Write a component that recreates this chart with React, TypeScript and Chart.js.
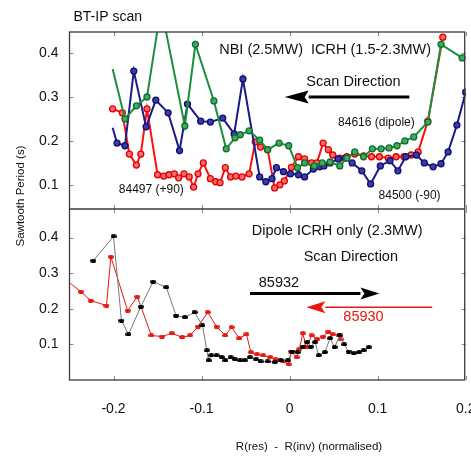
import { useEffect, useRef } from 'react';
import { Chart, registerables } from 'chart.js';

Chart.register(...registerables);

// ---- axis ticks ----
const xTicks = [-0.2, -0.1, 0, 0.1, 0.2];
const xTickLabels = ['-0.2', '-0.1', '0', '0.1', '0.2'];
const yTopTicks = [0.1, 0.2, 0.3, 0.4];
const yBotTicks = [0.1, 0.2, 0.3, 0.4];
const yTickLabels = ['0.1', '0.2', '0.3', '0.4'];

// ---- top panel: BT-IP scan ----
// 84497 (+90)  red
const s84497X = [-0.201, -0.190, -0.182, -0.174, -0.169, -0.162, -0.150, -0.143, -0.137, -0.131, -0.126, -0.120, -0.114, -0.109, -0.104, -0.098, -0.090, -0.084, -0.079, -0.073, -0.067, -0.061, -0.054, -0.046, -0.039, -0.033, -0.025, -0.017, -0.011, -0.006, 0.002, 0.010, 0.017, 0.025, 0.031, 0.038, 0.044, 0.049, 0.057, 0.065, 0.074, 0.084, 0.093, 0.102, 0.112, 0.121, 0.130, 0.138, 0.146, 0.157, 0.174];
const s84497Y = [0.273, 0.264, 0.170, 0.145, 0.170, 0.273, 0.123, 0.120, 0.123, 0.125, 0.116, 0.125, 0.118, 0.095, 0.125, 0.150, 0.114, 0.107, 0.105, 0.139, 0.118, 0.120, 0.118, 0.125, 0.198, 0.186, 0.180, 0.093, 0.100, 0.109, 0.140, 0.164, 0.159, 0.150, 0.150, 0.195, 0.180, 0.168, 0.161, 0.164, 0.170, 0.166, 0.164, 0.164, 0.161, 0.164, 0.164, 0.168, 0.175, 0.245, 0.436];
// 84500 (-90)  navy
const s84500X = [-0.201, -0.196, -0.187, -0.177, -0.163, -0.152, -0.138, -0.125, -0.116, -0.101, -0.090, -0.076, -0.063, -0.053, -0.034, -0.027, -0.020, -0.015, -0.007, 0.001, 0.010, 0.017, 0.027, 0.034, 0.039, 0.046, 0.055, 0.063, 0.071, 0.082, 0.092, 0.103, 0.114, 0.123, 0.132, 0.144, 0.153, 0.163, 0.172, 0.180, 0.190, 0.200];
const s84500Y = [0.230, 0.195, 0.189, 0.359, 0.232, 0.293, 0.264, 0.178, 0.284, 0.245, 0.243, 0.252, 0.216, 0.341, 0.118, 0.107, 0.114, 0.139, 0.130, 0.125, 0.123, 0.118, 0.136, 0.141, 0.143, 0.150, 0.159, 0.161, 0.150, 0.132, 0.102, 0.143, 0.155, 0.132, 0.164, 0.168, 0.150, 0.141, 0.148, 0.175, 0.236, 0.311];
// 84616 (dipole)  green
const s84616X = [-0.201, -0.187, -0.174, -0.162, -0.146, -0.119, -0.107, -0.086, -0.072, -0.062, -0.056, -0.046, -0.034, -0.025, -0.012, -0.001, 0.009, 0.017, 0.028, 0.037, 0.046, 0.057, 0.065, 0.074, 0.084, 0.094, 0.104, 0.113, 0.122, 0.131, 0.141, 0.157, 0.172, 0.196];
const s84616Y = [0.364, 0.250, 0.280, 0.300, 0.505, 0.234, 0.420, 0.291, 0.182, 0.207, 0.214, 0.223, 0.202, 0.180, 0.195, 0.189, 0.139, 0.150, 0.143, 0.150, 0.152, 0.143, 0.161, 0.175, 0.164, 0.182, 0.182, 0.184, 0.189, 0.200, 0.209, 0.243, 0.420, 0.389];

// ---- bottom panel: Dipole ICRH only ----
// 85932  black
const s85932X = [-0.223, -0.200, -0.191, -0.183, -0.169, -0.155, -0.140, -0.129, -0.119, -0.108, -0.099, -0.094, -0.092, -0.089, -0.083, -0.077, -0.073, -0.067, -0.062, -0.056, -0.051, -0.045, -0.038, -0.033, -0.025, -0.017, -0.010, -0.002, 0.003, 0.009, 0.015, 0.020, 0.024, 0.029, 0.033, 0.040, 0.046, 0.051, 0.057, 0.062, 0.067, 0.073, 0.079, 0.084, 0.090];
const s85932Y = [0.335, 0.403, 0.167, 0.128, 0.206, 0.276, 0.260, 0.181, 0.176, 0.190, 0.153, 0.083, 0.055, 0.069, 0.069, 0.064, 0.055, 0.064, 0.058, 0.055, 0.055, 0.064, 0.058, 0.052, 0.052, 0.050, 0.055, 0.055, 0.080, 0.078, 0.094, 0.106, 0.094, 0.106, 0.069, 0.078, 0.117, 0.092, 0.125, 0.100, 0.080, 0.075, 0.078, 0.083, 0.092];
// 85930  red
const s85930X = [-0.249, -0.237, -0.226, -0.208, -0.203, -0.184, -0.173, -0.157, -0.145, -0.134, -0.122, -0.113, -0.104, -0.093, -0.083, -0.073, -0.066, -0.057, -0.049, -0.044, -0.037, -0.030, -0.022, -0.016, -0.008, -0.001, 0.002, 0.008, 0.011, 0.015, 0.019, 0.025, 0.031, 0.038, 0.044, 0.049, 0.056, 0.058];
const s85930Y = [0.271, 0.248, 0.223, 0.209, 0.346, 0.195, 0.234, 0.125, 0.122, 0.131, 0.120, 0.125, 0.150, 0.190, 0.150, 0.125, 0.148, 0.117, 0.128, 0.078, 0.072, 0.069, 0.064, 0.058, 0.052, 0.044, 0.080, 0.064, 0.086, 0.131, 0.092, 0.125, 0.114, 0.122, 0.136, 0.128, 0.125, 0.114];

const FONT = "'Liberation Sans', Arial, sans-serif";

const pts = (xs: number[], ys: number[]) => xs.map((x, i) => ({ x, y: ys[i] }));

function ellipseMarker(color: string, w: number, h: number) {
  const c = document.createElement('canvas');
  c.width = w;
  c.height = h;
  const g = c.getContext('2d')!;
  g.fillStyle = color;
  g.beginPath();
  g.ellipse(w / 2, h / 2, w / 2, h / 2, 0, 0, Math.PI * 2);
  g.fill();
  return c;
}

function drawArrow(ctx: CanvasRenderingContext2D, x0: number, x1: number, y: number, lw: number, headLen: number, headHalf: number, color: string) {
  const dir = Math.sign(x1 - x0);
  const base = x1 - dir * headLen;
  ctx.save();
  ctx.strokeStyle = color;
  ctx.fillStyle = color;
  ctx.lineWidth = lw;
  ctx.beginPath();
  ctx.moveTo(x0, y);
  ctx.lineTo(base, y);
  ctx.stroke();
  ctx.beginPath();
  ctx.moveTo(x1, y);
  ctx.lineTo(base, y - headHalf);
  ctx.lineTo(base + dir * 4, y);
  ctx.lineTo(base, y + headHalf);
  ctx.closePath();
  ctx.fill();
  ctx.restore();
}

const overlay = {
  id: 'overlay',
  beforeDatasetsDraw(chart: any) {
    const { ctx } = chart;
    const x = chart.scales.x;
    const panels = [
      { s: chart.scales.yTop, ticks: yTopTicks },
      { s: chart.scales.yBot, ticks: yBotTicks },
    ];
    ctx.save();
    ctx.strokeStyle = '#8a8a8a';
    ctx.lineWidth = 1;
    const L = 4;
    for (const p of panels) {
      const top = p.s.top;
      const bot = p.s.bottom;
      for (const v of xTicks) {
        const px = Math.round(x.getPixelForValue(v)) + 0.5;
        ctx.beginPath();
        ctx.moveTo(px, top);
        ctx.lineTo(px, top + L);
        ctx.moveTo(px, bot);
        ctx.lineTo(px, bot - L);
        ctx.stroke();
      }
      for (const v of p.ticks) {
        const py = Math.round(p.s.getPixelForValue(v)) + 0.5;
        ctx.beginPath();
        ctx.moveTo(x.left, py);
        ctx.lineTo(x.left + L, py);
        ctx.moveTo(x.right, py);
        ctx.lineTo(x.right - L, py);
        ctx.stroke();
      }
    }
    ctx.restore();
  },
  afterDatasetsDraw(chart: any) {
    const { ctx, chartArea: a } = chart;
    const x = chart.scales.x;
    const yt = chart.scales.yTop;
    const yb = chart.scales.yBot;

    // frames
    ctx.save();
    ctx.strokeStyle = '#3a3a3a';
    ctx.lineWidth = 1.3;
    ctx.strokeRect(a.left, a.top, a.right - a.left - 1, a.bottom - a.top);
    ctx.beginPath();
    ctx.moveTo(a.left, yt.bottom);
    ctx.lineTo(a.right - 1, yt.bottom);
    ctx.stroke();
    ctx.restore();

    const text = (str: string, px: number, py: number, size: number, color = '#111', align: CanvasTextAlign = 'left') => {
      ctx.save();
      ctx.font = `${size}px ${FONT}`;
      ctx.fillStyle = color;
      ctx.textAlign = align;
      ctx.textBaseline = 'middle';
      ctx.fillText(str, px, py);
      ctx.restore();
    };

    // top panel annotations
    text('NBI (2.5MW)  ICRH (1.5-2.3MW)', x.getPixelForValue(-0.080), yt.getPixelForValue(0.407), 14.5);
    text('Scan Direction', x.getPixelForValue(0.019), yt.getPixelForValue(0.334), 14.5);
    drawArrow(ctx, x.getPixelForValue(0.136), x.getPixelForValue(-0.0056), yt.getPixelForValue(0.300), 3, 24, 6.5, '#000');
    text('84616 (dipole)', x.getPixelForValue(0.055), yt.getPixelForValue(0.241), 12);
    text('84497 (+90)', x.getPixelForValue(-0.194), yt.getPixelForValue(0.090), 12);
    text('84500 (-90)', x.getPixelForValue(0.101), yt.getPixelForValue(0.075), 12);

    // bottom panel annotations
    text('Dipole ICRH only (2.3MW)', x.getPixelForValue(-0.043), yb.getPixelForValue(0.419), 14.5);
    text('Scan Direction', x.getPixelForValue(0.016), yb.getPixelForValue(0.346), 14.5);
    text('85932', x.getPixelForValue(-0.035), yb.getPixelForValue(0.271), 14.5);
    drawArrow(ctx, x.getPixelForValue(-0.045), x.getPixelForValue(0.102), yb.getPixelForValue(0.243), 3, 19, 6, '#000');
    drawArrow(ctx, x.getPixelForValue(0.162), x.getPixelForValue(0.019), yb.getPixelForValue(0.204), 1.5, 19, 6, '#e8170f');
    text('85930', x.getPixelForValue(0.061), yb.getPixelForValue(0.176), 14.5, '#e8170f');

    // titles
    text('BT-IP scan', a.left + 4, 17, 14);
    text('R(res)  -  R(inv) (normalised)', 309, 447, 11.5, '#111', 'center');
    ctx.save();
    ctx.translate(21, 196);
    ctx.rotate(-Math.PI / 2);
    ctx.font = `11.5px ${FONT}`;
    ctx.fillStyle = '#111';
    ctx.textAlign = 'center';
    ctx.textBaseline = 'middle';
    ctx.fillText('Sawtooth Period (s)', 0, 0);
    ctx.restore();
  },
};

const topLine = (label: string, xs: number[], ys: number[], line: string, mark: string, fill: string, firstMarker: boolean) => ({
  label,
  data: pts(xs, ys),
  xAxisID: 'x',
  yAxisID: 'yTop',
  borderColor: line,
  borderWidth: 2,
  pointRadius: (c: any) => (c.dataIndex === 0 && !firstMarker ? 0 : 3),
  pointBorderWidth: 1.3,
  pointBorderColor: mark,
  pointBackgroundColor: fill,
  pointStyle: 'circle',
  tension: 0,
});

export default function App() {
  const ref = useRef<HTMLCanvasElement>(null);
  useEffect(() => {
    const blackM = ellipseMarker('#000', 6, 4);
    const redM = ellipseMarker('#e8170f', 6, 4);
    const yAxis = (min: number, max: number, ticks: number[], stackWeight: number, weight: number) => ({
      type: 'linear',
      position: 'left',
      stack: 'panels',
      stackWeight,
      weight,
      min,
      max,
      grid: { display: false, drawTicks: false },
      border: { display: false },
      ticks: {
        padding: 11,
        autoSkip: false,
        color: '#111',
        font: { family: FONT, size: 14 },
        callback: (_v: any, i: number) => yTickLabels[i],
      },
      afterBuildTicks: (s: any) => {
        s.ticks = ticks.map((v) => ({ value: v }));
      },
      afterFit: (s: any) => {
        s.width = 69.5;
        s.paddingTop = 0;
        s.paddingBottom = 0;
      },
    });
    const chart = new Chart(ref.current!, {
      type: 'line',
      data: {
        datasets: [
          topLine('84616 (dipole)', s84616X, s84616Y, '#1c8f3e', '#0e6e2c', '#43a860', false),
          topLine('84500 (-90)', s84500X, s84500Y, '#1b1b8c', '#101070', '#3a3aa8', false),
          topLine('84497 (+90)', s84497X, s84497Y, '#ff1010', '#e00000', '#ff6a6a', true),
          {
            label: '85932',
            data: pts(s85932X, s85932Y),
            xAxisID: 'x',
            yAxisID: 'yBot',
            borderColor: '#777',
            borderWidth: 1,
            pointStyle: blackM,
            pointRadius: 3,
            tension: 0,
          },
          {
            label: '85930',
            data: pts(s85930X, s85930Y),
            xAxisID: 'x',
            yAxisID: 'yBot',
            borderColor: '#e8170f',
            borderWidth: 1,
            pointStyle: redM,
            pointRadius: (c: any) => (c.dataIndex === 0 ? 0 : 3),
            tension: 0,
          },
        ] as any,
      },
      options: {
        responsive: false,
        animation: false,
        devicePixelRatio: 1,
        layout: { padding: { left: 0, right: 1, top: 32, bottom: 0 } },
        plugins: { legend: { display: false }, title: { display: false }, tooltip: { enabled: false } },
        events: [],
        scales: {
          x: {
            type: 'linear',
            position: 'bottom',
            min: -0.25,
            max: 0.2,
            grid: { display: false, drawTicks: false },
            border: { display: false },
            ticks: {
              padding: 21,
              autoSkip: false,
              maxRotation: 0,
              color: '#111',
              font: { family: FONT, size: 14 },
              callback: (_v: any, i: number) => xTickLabels[i],
            },
            afterBuildTicks: (s: any) => {
              s.ticks = xTicks.map((v) => ({ value: v }));
            },
            afterFit: (s: any) => {
              s.height = 95;
              s.paddingLeft = 0;
              s.paddingRight = 0;
            },
          },
          yBot: yAxis(0, 0.48, yBotTicks, 171, 0),
          yTop: yAxis(0.045, 0.448, yTopTicks, 177, 1),
        } as any,
      },
      plugins: [overlay],
    } as any);
    return () => chart.destroy();
  }, []);
  return (
    <div style={{ position: 'fixed', left: 0, top: 0, width: 471, height: 475, background: '#fff' }}>
      <canvas ref={ref} width={471} height={475} style={{ display: 'block', width: 471, height: 475 }} />
    </div>
  );
}
